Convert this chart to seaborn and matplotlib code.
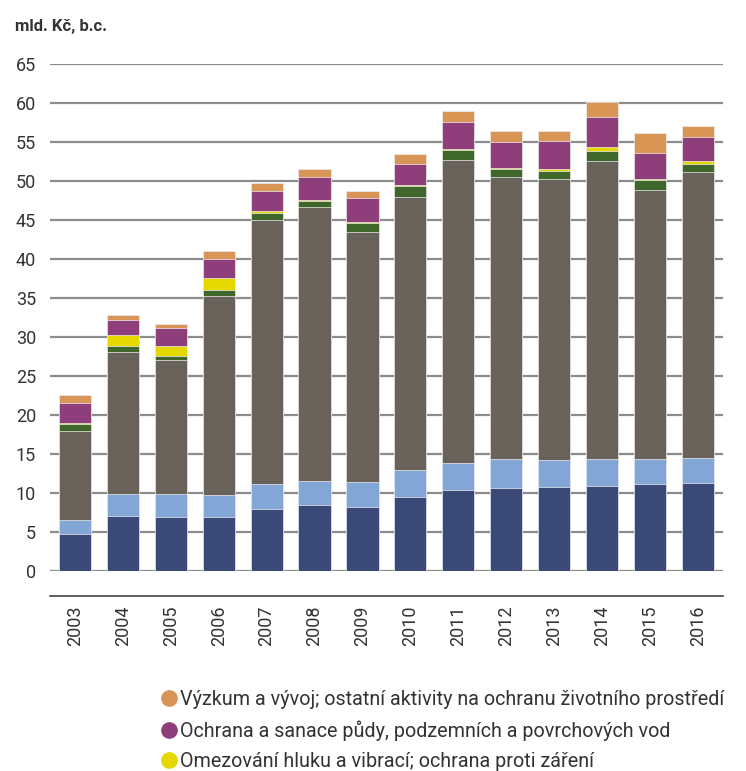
import matplotlib.pyplot as plt
import numpy as np
import pandas as pd
import seaborn as sns
from matplotlib.lines import Line2D

years = ['2003', '2004', '2005', '2006', '2007', '2008', '2009',
         '2010', '2011', '2012', '2013', '2014', '2015', '2016']

# segments from the bottom of the stack to the top (mld. Kč)
ovzdusi = [4.7, 7.05, 6.95, 6.9, 8.0, 8.4, 8.2,
           9.5, 10.4, 10.7, 10.8, 10.95, 11.1, 11.25]
odpadni_vody = [1.9, 2.85, 2.9, 2.85, 3.2, 3.1, 3.2,
                3.5, 3.5, 3.65, 3.4, 3.45, 3.3, 3.3]
odpady = [11.4, 18.2, 17.15, 25.45, 33.8, 35.2, 32.1,
          34.9, 38.8, 36.15, 36.0, 38.2, 34.5, 36.65]
biodiverzita = [0.9, 0.8, 0.6, 0.8, 0.9, 0.7, 1.1,
                1.5, 1.3, 1.1, 1.1, 1.2, 1.2, 1.0]
hluk = [0.1, 1.4, 1.3, 1.5, 0.2, 0.2, 0.1,
        0.1, 0.1, 0.1, 0.2, 0.6, 0.2, 0.3]
puda = [2.5, 1.9, 2.3, 2.5, 2.6, 2.9, 3.1,
        2.7, 3.5, 3.3, 3.6, 3.8, 3.3, 3.1]
vyzkum = [1.0, 0.6, 0.5, 1.0, 1.0, 1.0, 0.9,
          1.2, 1.4, 1.4, 1.3, 1.9, 2.5, 1.5]

series = [
    ('Ochrana ovzduší a klimatu', ovzdusi, '#3b4979'),
    ('Nakládání s odpadními vodami', odpadni_vody, '#82a6d6'),
    ('Nakládání s odpady', odpady, '#69625b'),
    ('Ochrana biodiverzity a krajiny', biodiverzita, '#3f672c'),
    ('Omezování hluku a vibrací; ochrana proti záření', hluk, '#e5d800'),
    ('Ochrana a sanace půdy, podzemních a povrchových vod', puda, '#8e3e7b'),
    ('Výzkum a vývoj; ostatní aktivity na ochranu životního prostředí',
     vyzkum, '#d99556'),
]
# only the top three entries of the legend are visible in the figure
legend_names = [s[0] for s in series[-3:]][::-1]

# cumulative tops for each layer
rows = []
tops = np.cumsum([s[1] for s in series], axis=0)
for (name, vals, color), top in zip(series, tops):
    for y, t in zip(years, top):
        rows.append((y, name, t))
df = pd.DataFrame(rows, columns=['rok', 'oblast', 'top'])

sns.set_style('white')
plt.rcParams['font.family'] = ['Roboto', 'DejaVu Sans']

fig = plt.figure(figsize=(7.46, 7.71), dpi=100)
ax = fig.add_axes([0.067, 0.2594, 0.902, 0.6576])

# draw from the top layer down so lower layers cover them
for name, vals, color in series[::-1]:
    sns.barplot(data=df[df['oblast'] == name], x='rok', y='top',
                order=years, color=color, saturation=1, width=0.67,
                edgecolor='#eeeeee', linewidth=0.5, ax=ax)

ax.set_ylim(0, 65)
ax.set_xlim(-0.52, 13.52)
ax.set_yticks(np.arange(0, 66, 5))
ax.yaxis.grid(True, color='#8c8c8c', linewidth=1.6)
ax.set_axisbelow(True)
ax.set_xlabel('')
ax.set_ylabel('')

for s in ['top', 'right', 'left']:
    ax.spines[s].set_visible(False)
ax.spines['bottom'].set_position(('outward', 18))
ax.spines['bottom'].set_color('#333333')
ax.spines['bottom'].set_linewidth(1.1)

ax.tick_params(axis='y', length=0, pad=10, labelsize=13, labelcolor='#333333')
ax.set_xticks(range(len(years)))
ax.set_xticklabels(years, rotation=90, fontsize=13, color='#333333')
ax.tick_params(axis='x', which='major', length=0, pad=7)
ax.set_xticks(np.arange(0.5, len(years) - 1, 1), minor=True)
ax.tick_params(axis='x', which='minor', length=10, direction='inout',
               color='#333333', width=1.1)

fig.text(0.02, 0.975, 'mld. Kč, b.c.', fontsize=12, fontweight='bold',
         color='#333333', va='top')

colors = {s[0]: s[2] for s in series}
handles = [Line2D([], [], marker='o', linestyle='', markersize=11,
                  markerfacecolor=colors[n], markeredgecolor=colors[n])
           for n in legend_names]
fig.legend(handles, legend_names, loc='upper left',
           bbox_to_anchor=(0.2, 0.118), frameon=False, fontsize=14.2,
           handletextpad=0.05, labelspacing=0.58, borderpad=0,
           handlelength=1.0, labelcolor='#333333')

plt.savefig('out.png', dpi=100)
plt.close()
